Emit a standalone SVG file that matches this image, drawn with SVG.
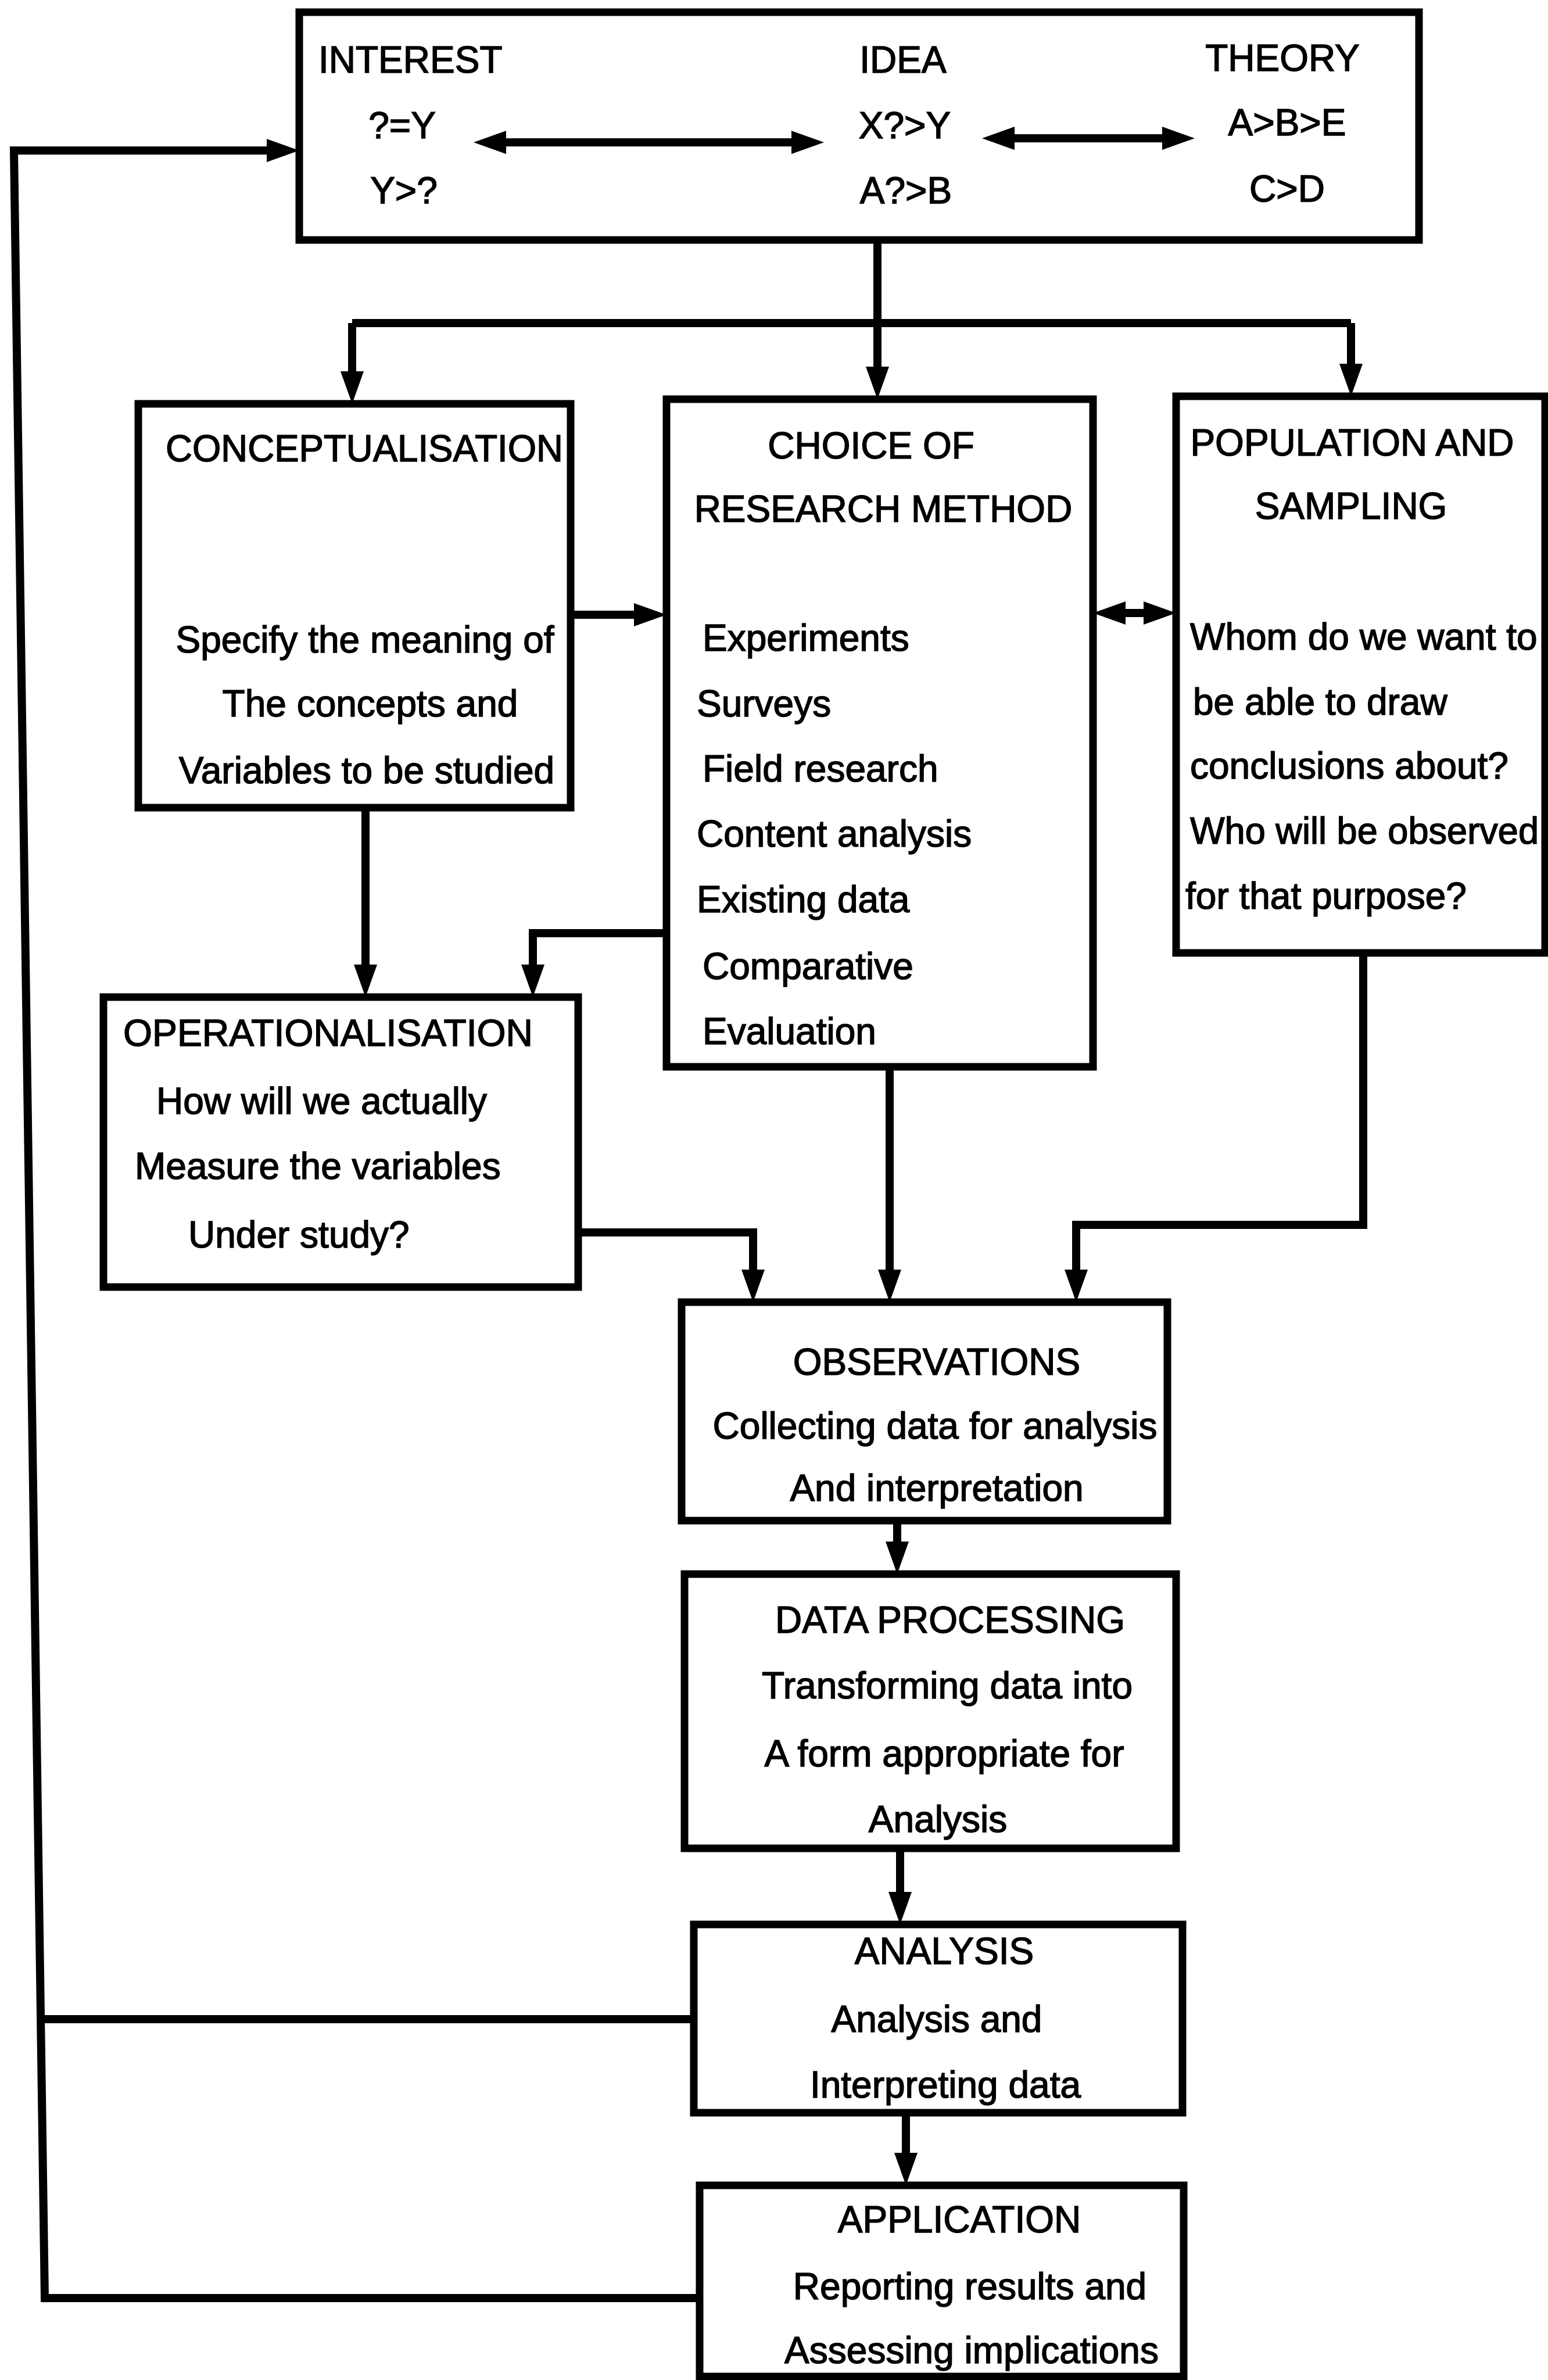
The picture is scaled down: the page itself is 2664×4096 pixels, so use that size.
<svg xmlns="http://www.w3.org/2000/svg" width="2664" height="4096" viewBox="0 0 2664 4096">
<defs>
<style>
.box{fill:#fff;stroke:#000;stroke-width:13}
.c{fill:none;stroke:#000;stroke-width:14;stroke-linejoin:miter}
text{font-family:"Liberation Sans",Arial,sans-serif;font-size:64px;fill:#000;stroke:#000;stroke-width:1.5}
.m{text-anchor:middle}
</style>
<marker id="ah" markerUnits="userSpaceOnUse" viewBox="0 0 56 40" markerWidth="56" markerHeight="40" refX="36" refY="20" orient="auto-start-reverse">
<path d="M0,0 L56,20 L0,40 z" fill="#000"/>
</marker>
</defs>
<rect width="2664" height="4096" fill="#fff"/>

<g id="connectors">
<path class="c" d="M1510,413 V667" marker-end="url(#ah)"/>
<path class="c" d="M606,556 H2325"/>
<path class="c" d="M606,556 V675" marker-end="url(#ah)"/>
<path class="c" d="M2325,556 V662" marker-end="url(#ah)"/>
<path class="c" d="M1204,3955 H77 L24,259 H495" marker-end="url(#ah)"/>
<path class="c" d="M1194,3475 H70"/>
<path class="c" d="M982,1058 H1127" marker-end="url(#ah)"/>
<path class="c" d="M1901,1055 H2004" marker-start="url(#ah)" marker-end="url(#ah)"/>
<path class="c" d="M629,1390 V1696" marker-end="url(#ah)"/>
<path class="c" d="M1147,1606 H917 V1696" marker-end="url(#ah)"/>
<path class="c" d="M1531,1836 V2221" marker-end="url(#ah)"/>
<path class="c" d="M995,2121 H1296 V2221" marker-end="url(#ah)"/>
<path class="c" d="M2346,1640 V2108 H1852 V2221" marker-end="url(#ah)"/>
<path class="c" d="M1544,2617 V2689" marker-end="url(#ah)"/>
<path class="c" d="M1549,3181 V3292" marker-end="url(#ah)"/>
<path class="c" d="M1559,3636 V3741" marker-end="url(#ah)"/>
</g>

<g id="top">
<rect class="box" x="515" y="21" width="1927" height="392"/>
<text x="548" y="125">INTEREST</text>
<text class="m" x="1554" y="125">IDEA</text>
<text class="m" x="2207" y="122">THEORY</text>
<text class="m" x="692" y="238">?=Y</text>
<text class="m" x="1557" y="238">X?&gt;Y</text>
<text class="m" x="2215" y="233">A&gt;B&gt;E</text>
<text class="m" x="695" y="350">Y&gt;?</text>
<text class="m" x="1559" y="350">A?&gt;B</text>
<text class="m" x="2215" y="347">C&gt;D</text>
<path class="c" d="M835,245 H1398" marker-start="url(#ah)" marker-end="url(#ah)"/>
<path class="c" d="M1710,238 H2036" marker-start="url(#ah)" marker-end="url(#ah)"/>
</g>

<g id="conceptualisation">
<rect class="box" x="238" y="695" width="744" height="695"/>
<text x="285" y="794" textLength="684" lengthAdjust="spacingAndGlyphs">CONCEPTUALISATION</text>
<text class="m" x="628" y="1123">Specify the meaning of</text>
<text class="m" x="637" y="1233">The concepts and</text>
<text class="m" x="631" y="1348">Variables to be studied</text>
</g>

<g id="choice">
<rect class="box" x="1147" y="687" width="734" height="1149"/>
<text class="m" x="1499" y="789">CHOICE OF</text>
<text class="m" x="1520" y="898">RESEARCH METHOD</text>
<text x="1209" y="1120">Experiments</text>
<text x="1199" y="1233">Surveys</text>
<text x="1209" y="1345">Field research</text>
<text x="1199" y="1457">Content analysis</text>
<text x="1199" y="1570">Existing data</text>
<text x="1209" y="1685">Comparative</text>
<text x="1209" y="1797">Evaluation</text>
</g>

<g id="population">
<rect class="box" x="2024" y="682" width="635" height="958"/>
<text class="m" x="2327" y="784">POPULATION AND</text>
<text class="m" x="2325" y="893">SAMPLING</text>
<text x="2048" y="1118">Whom do we want to</text>
<text x="2053" y="1230">be able to draw</text>
<text x="2048" y="1340">conclusions about?</text>
<text x="2048" y="1452" textLength="600" lengthAdjust="spacingAndGlyphs">Who will be observed</text>
<text x="2040" y="1564">for that purpose?</text>
</g>

<g id="operationalisation">
<rect class="box" x="178" y="1716" width="817" height="499"/>
<text x="212" y="1800" textLength="705" lengthAdjust="spacingAndGlyphs">OPERATIONALISATION</text>
<text x="269" y="1917">How will we actually</text>
<text x="232" y="2029">Measure the variables</text>
<text x="324" y="2147">Under study?</text>
</g>

<g id="observations">
<rect class="box" x="1173" y="2241" width="836" height="376"/>
<text class="m" x="1612" y="2366">OBSERVATIONS</text>
<text class="m" x="1609" y="2476">Collecting data for analysis</text>
<text class="m" x="1612" y="2583">And interpretation</text>
</g>

<g id="data-processing">
<rect class="box" x="1178" y="2709" width="846" height="472"/>
<text class="m" x="1635" y="2810">DATA PROCESSING</text>
<text class="m" x="1630" y="2923">Transforming data into</text>
<text class="m" x="1625" y="3040">A form appropriate for</text>
<text class="m" x="1614" y="3153">Analysis</text>
</g>

<g id="analysis">
<rect class="box" x="1194" y="3312" width="841" height="324"/>
<text class="m" x="1625" y="3380">ANALYSIS</text>
<text class="m" x="1612" y="3497">Analysis and</text>
<text class="m" x="1627" y="3610">Interpreting data</text>
</g>

<g id="application">
<rect class="box" x="1204" y="3761" width="833" height="329"/>
<text class="m" x="1651" y="3842">APPLICATION</text>
<text class="m" x="1669" y="3957">Reporting results and</text>
<text class="m" x="1672" y="4067">Assessing implications</text>
</g>
</svg>
